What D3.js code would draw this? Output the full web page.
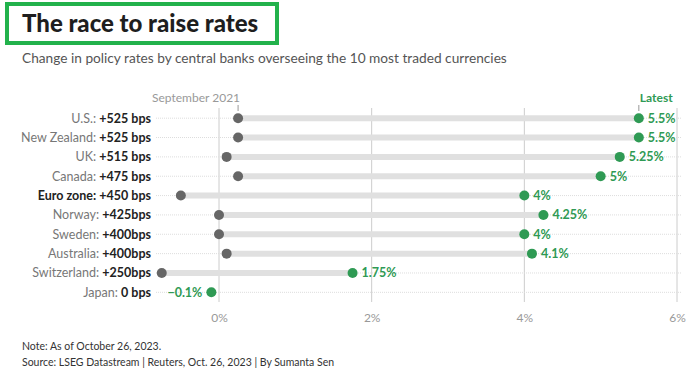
<!DOCTYPE html>
<html>
<head>
<meta charset="utf-8">
<script src="https://cdn.jsdelivr.net/npm/d3@7"></script>
<style>
  body { margin: 0; background: #fff; }
  svg text { font-family: Lato, "Open Sans", sans-serif; }
</style>
</head>
<body>
<div id="chart"></div>
<script>
var countries = ["U.S.", "New Zealand", "UK", "Canada", "Euro zone", "Norway", "Sweden", "Australia", "Switzerland", "Japan"];
var changes = ["+525 bps", "+525 bps", "+515 bps", "+475 bps", "+450 bps", "+425bps", "+400bps", "+400bps", "+250bps", "0 bps"];
var startRates = [0.25, 0.25, 0.1, 0.25, -0.5, 0, 0, 0.1, -0.75, -0.1];
var latestRates = [5.5, 5.5, 5.25, 5, 4, 4.25, 4, 4.1, 1.75, -0.1];
var latestLabels = ["5.5%", "5.5%", "5.25%", "5%", "4%", "4.25%", "4%", "4.1%", "1.75%", "\u22120.1%"];
var xTicks = [0, 2, 4, 6];

var data = countries.map(function(c, i) {
  return {name: c, change: changes[i], start: startRates[i], end: latestRates[i], label: latestLabels[i]};
});

var W = 694, H = 372;
var svg = d3.select("#chart").append("svg")
    .attr("width", W)
    .attr("height", H);

var green = "#2f9a54";
var gray = "#666";

// title box
svg.append("rect")
    .attr("x", 7).attr("y", 4)
    .attr("width", 270).attr("height", 39)
    .attr("fill", "none")
    .attr("stroke", "#22b24c")
    .attr("stroke-width", 4);

svg.append("text")
    .attr("x", 22).attr("y", 32)
    .style("font-size", "24px")
    .style("font-weight", "900")
    .attr("fill", "#1e1e1e")
    .text("The race to raise rates");

svg.append("text")
    .attr("x", 22).attr("y", 63)
    .style("font-size", "13.7px")
    .attr("fill", "#555")
    .text("Change in policy rates by central banks overseeing the 10 most traded currencies");

var x = d3.scaleLinear().domain([0, 6]).range([219, 677]);
var y = d3.scaleBand().domain(countries).range([108.5, 302]);
var cy = function(d) { return y(d.name) + y.bandwidth() / 2; };

// vertical grid
svg.append("g").selectAll("line")
    .data(xTicks)
  .enter().append("line")
    .attr("x1", function(d) { return x(d); })
    .attr("x2", function(d) { return x(d); })
    .attr("y1", 108)
    .attr("y2", 302)
    .attr("stroke", "#ccc")
    .attr("stroke-width", 1);

// x axis labels
var xAxis = svg.append("g")
    .attr("transform", "translate(0,310)")
    .call(d3.axisBottom(x).tickValues(xTicks).tickSize(0).tickFormat(function(d) { return d + "%"; }));
xAxis.select(".domain").remove();
xAxis.selectAll("text")
    .style("font-size", "12px")
    .attr("fill", "#999")
    .attr("dy", "0.71em");

var rows = svg.selectAll(".row")
    .data(data)
  .enter().append("g")
    .attr("class", "row");

// dotted row guides
rows.append("line")
    .attr("x1", 156)
    .attr("x2", 682)
    .attr("y1", cy)
    .attr("y2", cy)
    .attr("stroke", "#ddd")
    .attr("stroke-width", 1)
    .attr("stroke-dasharray", "1,1");

// range bars
rows.append("line")
    .attr("x1", function(d) { return x(d.start); })
    .attr("x2", function(d) { return x(d.end); })
    .attr("y1", cy)
    .attr("y2", cy)
    .attr("stroke", "#e0e0e0")
    .attr("stroke-width", 6);

rows.filter(function(d) { return d.start !== d.end; })
  .append("circle")
    .attr("cx", function(d) { return x(d.start); })
    .attr("cy", cy)
    .attr("r", 5)
    .attr("fill", gray);

rows.append("circle")
    .attr("cx", function(d) { return x(d.end); })
    .attr("cy", cy)
    .attr("r", 5)
    .attr("fill", green);

rows.append("text")
    .attr("x", function(d) { return d.end < 0 ? x(d.end) - 9 : x(d.end) + 9; })
    .attr("y", cy)
    .attr("dy", "0.35em")
    .attr("text-anchor", function(d) { return d.end < 0 ? "end" : "start"; })
    .style("font-size", "12.5px")
    .style("font-weight", "bold")
    .attr("fill", green)
    .text(function(d) { return d.label; });

// country labels
var lab = rows.append("text")
    .attr("x", 151)
    .attr("y", cy)
    .attr("dy", "0.35em")
    .attr("text-anchor", "end")
    .style("font-size", "12.5px");
lab.append("tspan")
    .attr("fill", function(d) { return d.name === "Euro zone" ? "#222" : "#777"; })
    .style("font-weight", function(d) { return d.name === "Euro zone" ? "bold" : "normal"; })
    .text(function(d) { return d.name + ": "; });
lab.append("tspan")
    .attr("fill", "#222")
    .style("font-weight", "bold")
    .text(function(d) { return d.change; });

// column annotations
var first = data[0];
svg.append("text")
    .attr("x", x(first.start) + 2)
    .attr("y", 102)
    .attr("text-anchor", "end")
    .style("font-size", "12px")
    .attr("fill", "#999")
    .text("September 2021");
svg.append("line")
    .attr("x1", x(first.start)).attr("x2", x(first.start))
    .attr("y1", 105).attr("y2", 111)
    .attr("stroke", "#999");

svg.append("text")
    .attr("x", x(first.end) + 1)
    .attr("y", 102)
    .style("font-size", "12px")
    .style("font-weight", "bold")
    .attr("fill", green)
    .text("Latest");
svg.append("line")
    .attr("x1", x(first.end)).attr("x2", x(first.end))
    .attr("y1", 105).attr("y2", 111)
    .attr("stroke", "#999");

// footnotes
svg.append("text")
    .attr("x", 22).attr("y", 350)
    .style("font-size", "10.5px")
    .attr("fill", "#333")
    .text("Note: As of October 26, 2023.");
svg.append("text")
    .attr("x", 22).attr("y", 366)
    .style("font-size", "10.5px")
    .attr("fill", "#333")
    .text("Source: LSEG Datastream | Reuters, Oct. 26, 2023 | By Sumanta Sen");
</script>
</body>
</html>
